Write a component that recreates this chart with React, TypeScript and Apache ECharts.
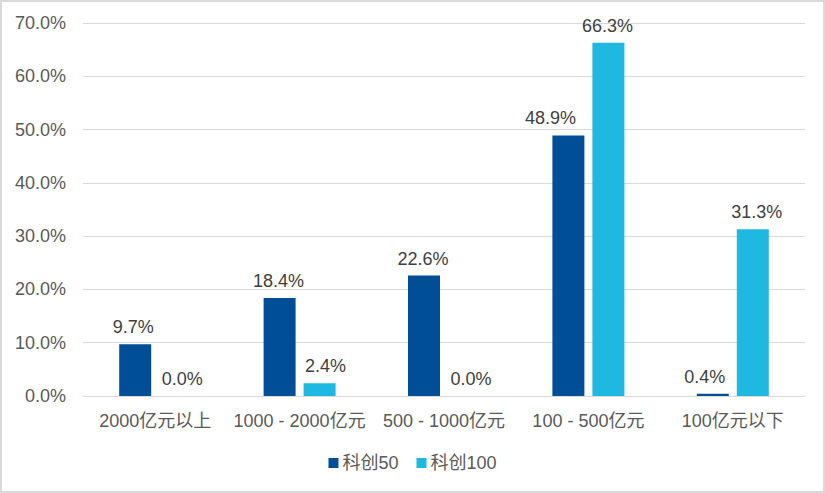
import React, { useEffect, useRef } from "react";
import * as echarts from "echarts";

const categories = ["2000亿元以上", "1000 - 2000亿元", "500 - 1000亿元", "100 - 500亿元", "100亿元以下"];
const kc50 = [9.7, 18.4, 22.6, 48.9, 0.4];
const kc100 = [0.0, 2.4, 0.0, 66.3, 31.3];
const seriesNames = ["科创50", "科创100"];

// horizontal nudges of individual value labels (as placed in the original)
const kc50LabelShift = [-2, -1, -1, -18, -8];
const kc100LabelShift = [7, 6, 7, -1, 4];

const FONT = "'Liberation Sans', Arial, 'Noto Sans CJK SC', sans-serif";

export default function App() {
  const ref = useRef<HTMLDivElement>(null);
  useEffect(() => {
    const chart = echarts.init(ref.current!, null, { renderer: "svg" });
    const label = {
      show: true,
      position: "top" as const,
      distance: 8,
      color: "#404040",
      fontSize: 18,
      fontFamily: FONT,
      formatter: (p: any) => Number(p.value).toFixed(1) + "%",
    };
    const build = (vals: number[], shifts: number[]) =>
      vals.map((v, i) => ({ value: v, label: { offset: [shifts[i], 0] } }));
    chart.setOption({
      animation: false,
      textStyle: { fontFamily: FONT },
      graphic: [
        {
          type: "rect",
          shape: { x: 1, y: 1, width: 823, height: 491 },
          style: { fill: "none", stroke: "#d9d9d9", lineWidth: 2 },
          silent: true,
        },
      ],
      grid: { left: 83, right: 20, top: 23, bottom: 97, containLabel: false },
      legend: {
        data: seriesNames,
        bottom: 16,
        left: "center",
        itemWidth: 10,
        itemHeight: 10,
        itemGap: 18,
        icon: "rect",
        textStyle: { fontSize: 18, color: "#595959", fontFamily: FONT, padding: [0, 0, 0, -1] },
      },
      xAxis: {
        type: "category",
        data: categories,
        axisLine: { lineStyle: { color: "#d9d9d9", width: 1 } },
        axisTick: { show: false },
        axisLabel: { color: "#595959", fontSize: 18, fontFamily: FONT, margin: 16, interval: 0 },
      },
      yAxis: {
        type: "value",
        min: 0,
        max: 70,
        interval: 10,
        axisLine: { show: false },
        axisTick: { show: false },
        splitLine: { lineStyle: { color: "#d9d9d9", width: 1 } },
        axisLabel: {
          color: "#595959",
          fontSize: 18,
          fontFamily: FONT,
          margin: 17,
          formatter: (v: number) => v.toFixed(1) + "%",
        },
      },
      series: [
        {
          name: seriesNames[0],
          type: "bar",
          data: build(kc50, kc50LabelShift),
          barWidth: 32,
          barGap: "25%",
          itemStyle: { color: "#004F96" },
          label,
        },
        {
          name: seriesNames[1],
          type: "bar",
          data: build(kc100, kc100LabelShift),
          barWidth: 32,
          barGap: "25%",
          itemStyle: { color: "#1FB8E1" },
          label,
        },
      ],
    });
    return () => chart.dispose();
  }, []);
  return (
    <div style={{ position: "fixed", left: 0, top: 0, width: 825, height: 493, background: "#fff" }}>
      <div ref={ref} style={{ width: 825, height: 493 }} />
    </div>
  );
}
